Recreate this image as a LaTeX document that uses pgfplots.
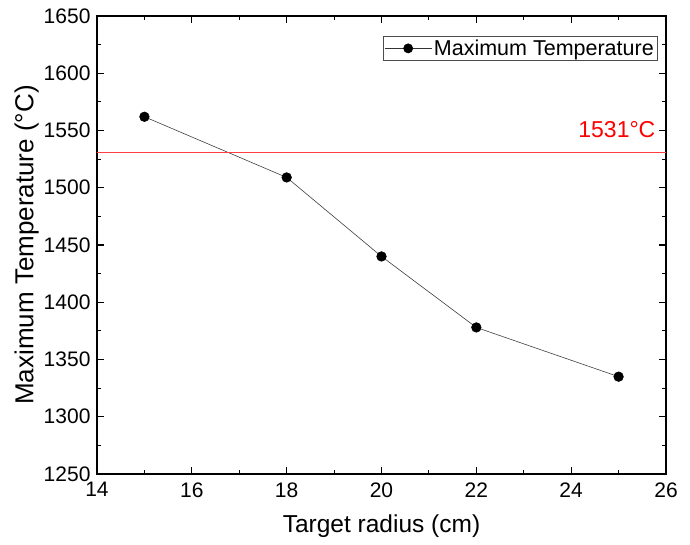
\documentclass[border=0pt]{standalone}
\usepackage{fontspec}
\setmainfont{Liberation Sans}
\usepackage{pgfplots}
\pgfplotsset{compat=1.18}
\begin{document}
\begin{tikzpicture}[x=1pt,y=1pt]
\begin{axis}[
  scale only axis,
  width=569pt, height=458pt,
  xmin=14, xmax=26, ymin=1250, ymax=1650,
  xtick={14,16,...,26}, ytick={1250,1300,...,1650},
  minor x tick num=1, minor y tick num=1,
  tick align=inside,
  major tick length=7pt, minor tick length=4pt,
  axis line style={line width=1.3pt},
  every tick/.style={line width=1.1pt, black},
  /pgf/number format/assume math mode=true,
  /pgf/number format/1000 sep={},
  ticklabel style={font=\fontsize{21}{21}\selectfont},
  xticklabel style={yshift=-5pt},
  yticklabel style={xshift=-3pt},
  xlabel={Target radius (cm)},
  ylabel={Maximum Temperature (°C)},
  xlabel style={font=\fontsize{24.5}{24.5}\selectfont, yshift=-10pt},
  ylabel style={font=\fontsize{26}{26}\selectfont, yshift=-2pt},
  legend style={at={(0.985,0.956)}, anchor=north east, draw=black!70,
    font=\fontsize{21.5}{21.5}\selectfont, inner sep=1.5pt,
    legend cell align=left},
  legend image code/.code={
    \draw[black!80, line width=0.5pt] (0pt,0pt) -- (47pt,0pt);
    \fill[black] (23.5pt,0pt) circle (4.6pt);
  },
  clip=false,
]
\addplot[black!75, line width=0.6pt, mark=*, mark size=4.8pt,
  mark options={fill=black, draw=black}]
  coordinates {(15,1562) (18,1509) (20,1440) (22,1378) (25,1335)};
\addlegendentry{Maximum Temperature}
\addplot[red!75, line width=0.7pt, forget plot] coordinates {(14,1531) (26,1531)};
\node[anchor=east, text=red, font=\fontsize{23}{23}\selectfont]
  at (axis cs:25.85,1551) {1531°C};
\end{axis}
\pgfresetboundingbox
\path[use as bounding box] (-97pt,-71pt) rectangle (593pt,474pt);
\end{tikzpicture}
\end{document}
